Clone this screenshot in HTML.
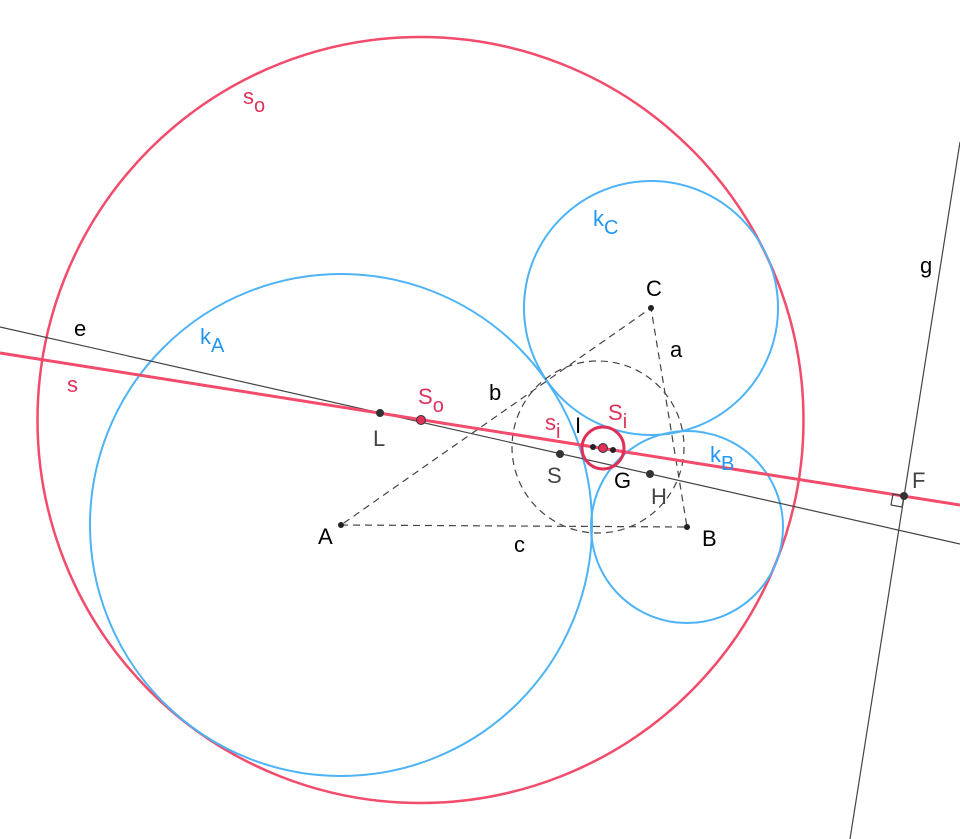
<!DOCTYPE html>
<html><head><style>body{margin:0;background:#fff}svg{display:block}text{font-family:"Liberation Sans",sans-serif;font-size:22px}</style></head>
<body>
<svg width="960" height="839" viewBox="0 0 960 839">
<g fill="none">
<circle cx="420.5" cy="420" r="383" stroke="#f24b6b" stroke-width="2.5"/>
<circle cx="341" cy="525" r="251" stroke="#4db3f5" stroke-width="2"/>
<circle cx="651" cy="308" r="127" stroke="#4db3f5" stroke-width="2"/>
<circle cx="687" cy="527" r="96" stroke="#4db3f5" stroke-width="2"/>
<circle cx="598" cy="447" r="86" stroke="#444" stroke-width="1.2" stroke-dasharray="7,5"/>
<polygon points="341,525 687,527 651,308" stroke="#444" stroke-width="1.2" stroke-dasharray="7,5"/>
<line x1="0" y1="327" x2="960" y2="544" stroke="#444" stroke-width="1.2"/>
<line x1="0" y1="353" x2="960" y2="505" stroke="#f24b6b" stroke-width="3"/>
<line x1="960" y1="142" x2="850" y2="839" stroke="#444" stroke-width="1.2"/>
<polygon points="904,496 902,507 891,505 893,494" stroke="#444" stroke-width="1.2"/>
<circle cx="603" cy="448" r="21" stroke="#e0305a" stroke-width="3"/>
</g>
<g fill="#222">
<circle cx="341" cy="525" r="3"/><circle cx="687" cy="527" r="3"/><circle cx="651" cy="308" r="3"/>
<circle cx="380" cy="413" r="4" fill="#333"/><circle cx="560" cy="454" r="4" fill="#333"/>
<circle cx="593" cy="447" r="3"/><circle cx="613" cy="450" r="3"/>
<circle cx="650" cy="474" r="4" fill="#333"/><circle cx="904" cy="496" r="4" fill="#333"/>
</g>
<circle cx="421" cy="420" r="4.5" fill="#e0305a" stroke="#333"/>
<circle cx="603" cy="448" r="4.5" fill="#e0305a" stroke="#333"/>
<g fill="#000">
<text x="318" y="544">A</text><text x="702" y="546">B</text><text x="646" y="296">C</text>
<text x="670" y="357">a</text><text x="489" y="400">b</text><text x="514" y="552">c</text>
<text x="74" y="336">e</text><text x="920" y="273">g</text><text x="575" y="433">I</text>
<text x="614" y="488">G</text>
</g>
<g fill="#444"><text x="373" y="446">L</text><text x="547" y="483">S</text><text x="651" y="504">H</text><text x="912" y="488">F</text></g>
<g fill="#e0305a">
<text x="243" y="104">s<tspan font-size="20" dy="8">o</tspan></text>
<text x="67" y="392">s</text>
<text x="418" y="404">S<tspan font-size="20" dy="8">o</tspan></text>
<text x="545" y="430">s<tspan font-size="20" dy="8">i</tspan></text>
<text x="608" y="420">S<tspan font-size="20" dy="8">i</tspan></text>
</g>
<g fill="#2196f3">
<text x="200" y="344">k<tspan font-size="20" dy="8">A</tspan></text>
<text x="593" y="226">k<tspan font-size="20" dy="8">C</tspan></text>
<text x="710" y="462">k<tspan font-size="20" dy="8">B</tspan></text>
</g>
</svg>
</body></html>
